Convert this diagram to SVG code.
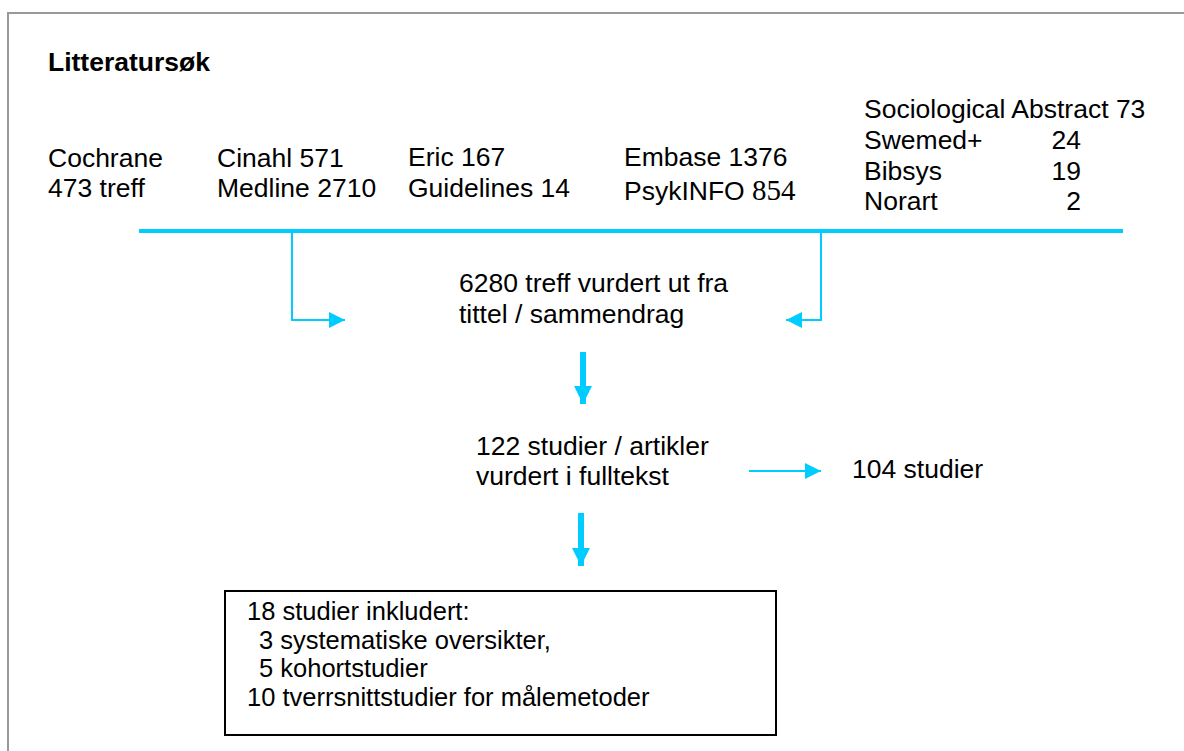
<svg xmlns="http://www.w3.org/2000/svg" width="1184" height="751" viewBox="0 0 1184 751">
  <style>
    .t { font-family: "Liberation Sans", Arial, sans-serif; font-size: 26.5px; fill: #000; }
    .b { font-weight: bold; }
    .serif { font-family: "Liberation Serif", "Times New Roman", serif; font-size: 29px; }
    .thin { stroke: #00CCFF; stroke-width: 2; fill: none; }
    .thick { stroke: #00CCFF; stroke-width: 6; fill: none; }
    .bar { stroke: #00CCFF; stroke-width: 4; fill: none; }
  </style>
  <defs>
    <marker id="ah" markerUnits="userSpaceOnUse" markerWidth="16" markerHeight="16" refX="16" refY="8" orient="auto">
      <path d="M0,0 L16,8 L0,16 z" fill="#00CCFF"/>
    </marker>
    <marker id="ahb" markerUnits="userSpaceOnUse" markerWidth="18" markerHeight="18" refX="18" refY="9" orient="auto">
      <path d="M0,0 L18,9 L0,18 z" fill="#00CCFF"/>
    </marker>
  </defs>
  <rect width="1184" height="751" fill="#fff"/>
  <g id="frame">
    <path d="M8,751 L8,13 L1184,13" stroke="#999" stroke-width="2" fill="none"/>
  </g>
  <g id="title"><text class="t b" x="48" y="71">Litteratursøk</text></g>
  <g id="cochrane"><text class="t" x="48" y="167">Cochrane</text><text class="t" x="48" y="197">473 treff</text></g>
  <g id="cinahl"><text class="t" x="217" y="167">Cinahl 571</text><text class="t" x="217" y="197">Medline 2710</text></g>
  <g id="eric"><text class="t" x="408" y="166">Eric 167</text><text class="t" x="408" y="197">Guidelines 14</text></g>
  <g id="embase"><text class="t" x="624" y="166">Embase 1376</text><text class="t" x="624" y="200">PsykINFO <tspan class="serif">854</tspan></text></g>
  <g id="others">
    <text class="t" x="864" y="118">Sociological Abstract 73</text>
    <text class="t" x="864" y="148.5">Swemed+</text><text class="t" x="1081" y="148.5" text-anchor="end">24</text>
    <text class="t" x="864" y="179.5">Bibsys</text><text class="t" x="1081" y="179.5" text-anchor="end">19</text>
    <text class="t" x="864" y="209.5">Norart</text><text class="t" x="1081" y="209.5" text-anchor="end">2</text>
  </g>
  <g id="screen"><text class="t" x="459" y="292">6280 treff vurdert ut fra</text><text class="t" x="459" y="323">tittel / sammendrag</text></g>
  <g id="fulltext"><text class="t" x="476" y="455">122 studier / artikler</text><text class="t" x="476" y="485">vurdert i fulltekst</text></g>
  <g id="excluded"><text class="t" x="852" y="478">104 studier</text></g>
  <g id="included">
    <rect x="225" y="591" width="551" height="144" fill="none" stroke="#000" stroke-width="2"/>
    <text class="t" x="247" y="620" style="font-size:25.5px">18 studier inkludert:</text>
    <text class="t" x="259" y="648.5" style="font-size:25.5px">3 systematiske oversikter,</text>
    <text class="t" x="259" y="677" style="font-size:25.5px">5 kohortstudier</text>
    <text class="t" x="247" y="706" style="font-size:25.5px">10 tverrsnittstudier for målemetoder</text>
  </g>
  <g id="connectors">
    <line class="bar" x1="139" y1="231" x2="1123" y2="231"/>
    <path class="thin" d="M292,231 L292,320 L345,320" marker-end="url(#ah)"/>
    <path class="thin" d="M821,231 L821,320 L786,320" marker-end="url(#ah)"/>
    <line class="thick" x1="583" y1="352" x2="583" y2="404" marker-end="url(#ahb)"/>
    <line class="thick" x1="581" y1="513" x2="581" y2="566" marker-end="url(#ahb)"/>
    <line class="thin" x1="749" y1="471" x2="821" y2="471" marker-end="url(#ah)"/>
  </g>
</svg>
